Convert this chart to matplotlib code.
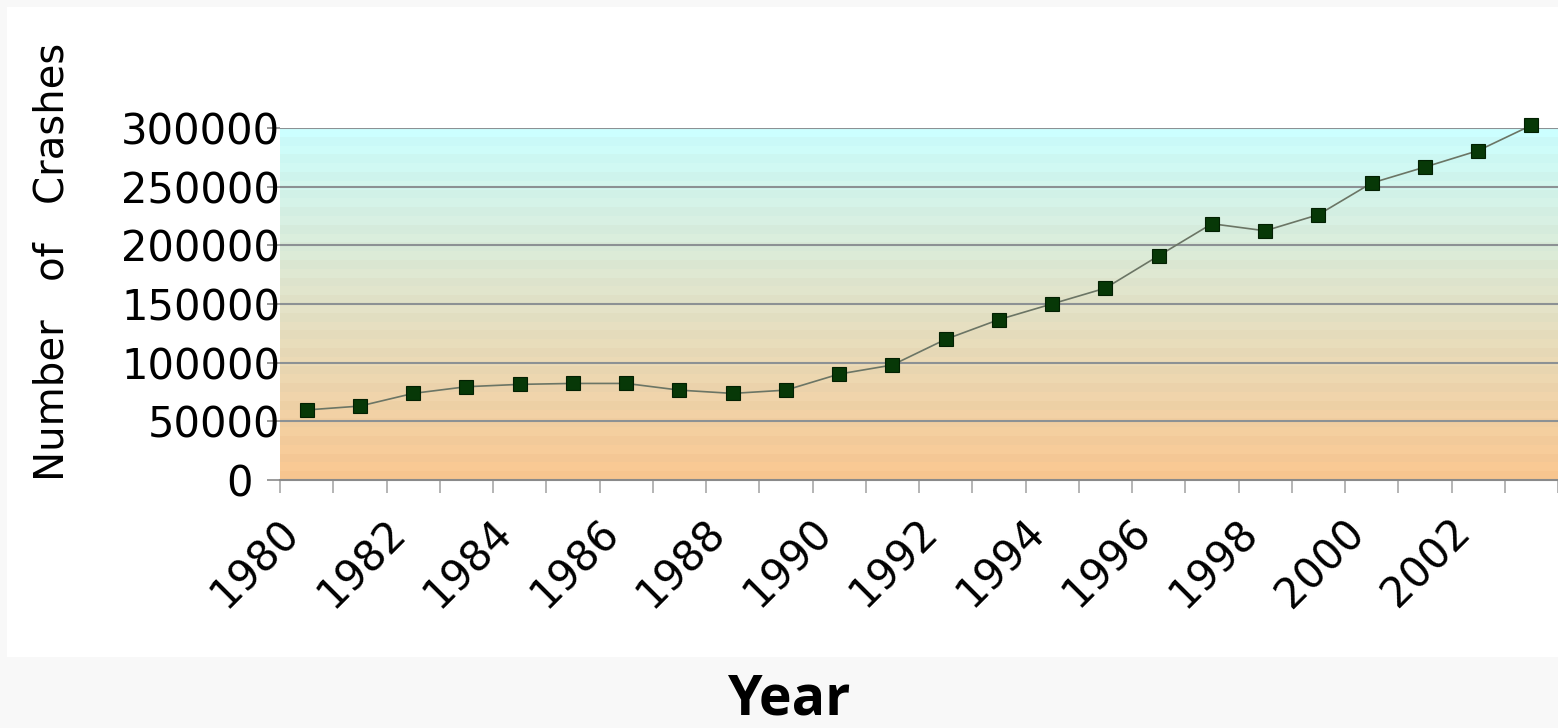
import matplotlib.pyplot as plt
import numpy as np
from matplotlib.colors import to_rgb
from matplotlib.patches import Rectangle
from matplotlib.transforms import ScaledTranslation

years = [str(y) for y in range(1980, 2004)]
crashes = [
    59700, 63000, 73800, 79500, 81500, 82300, 82300, 76600,
    73800, 76600, 90300, 98000, 119900, 136700, 150100, 163500,
    191100, 218400, 212400, 226100, 253100, 266700, 280700, 302300,
]
y_ticks = [0, 50000, 100000, 150000, 200000, 250000, 300000]


def _banded_gradient(top, bottom, n_bands=40):
    # stepped gradient with faint alternating stripes, like the old spreadsheet fill
    t = np.linspace(0, 1, n_bands)[:, None]
    cols = (1 - t) * np.array(to_rgb(top)) + t * np.array(to_rgb(bottom))
    shade = np.where(np.arange(n_bands) % 2 == 0, 1.0, 0.985)[:, None]
    return np.clip(cols * shade, 0, 1)[:, None, :]


def main():
    fig = plt.figure(figsize=(15.58, 7.28), dpi=100, facecolor="#f8f8f8")
    fig.patches.append(
        Rectangle((7 / 1558, 1 - 657 / 728), 1, (657 - 7) / 728,
                  transform=fig.transFigure, facecolor="white",
                  edgecolor="none", zorder=-10)
    )

    ax = fig.add_axes([280 / 1558, 1 - 480 / 728, 1278 / 1558, 352 / 728])
    ax.set_facecolor("none")

    x = np.arange(len(years))
    ax.set_xlim(-0.5, len(years) - 0.5)
    ax.set_ylim(0, 300000)

    # row 0 of the image is the top (cyan) band
    ax.imshow(_banded_gradient("#ccffff", "#fbc892"),
              extent=[-0.5, len(years) - 0.5, 0, 300000], origin="upper",
              aspect="auto", zorder=0, interpolation="nearest")

    for v in y_ticks[1:]:
        ax.axhline(v, color="#8c9194", lw=1.5, zorder=1)

    ax.plot(x, crashes, color="#6b7565", lw=1.2, zorder=2, clip_on=False)
    ax.plot(x, crashes, ls="none", marker="s", markersize=10.5,
            markerfacecolor="#073807", markeredgecolor="#022002",
            markeredgewidth=0.8, zorder=3, clip_on=False)

    for side in ("top", "right", "left"):
        ax.spines[side].set_visible(False)
    ax.spines["bottom"].set_color("#8a8a8a")
    ax.spines["bottom"].set_linewidth(1.5)

    ax.set_yticks(y_ticks)
    ax.set_yticklabels([str(v) for v in y_ticks])
    ax.tick_params(axis="y", length=9.5, width=1.2, color="#8a8a8a",
                   pad=-9.5, labelsize=30)
    # the zero label sits further left, clear of its tick
    zero_lbl = ax.get_yticklabels()[0]
    zero_lbl.set_transform(zero_lbl.get_transform()
                           + ScaledTranslation(-0.27, 0, fig.dpi_scale_trans))

    ax.set_xticks(x[::2])
    ax.set_xticklabels(years[::2], rotation=45, ha="right",
                       va="center", rotation_mode="anchor")
    ax.set_xticks(np.arange(len(years) + 1) - 0.5, minor=True)
    ax.tick_params(axis="x", which="major", length=0, pad=33, labelsize=30)
    ax.tick_params(axis="x", which="minor", length=9.5, width=1.2,
                   color="#a8a8a8")
    shift = ScaledTranslation(-0.14, 0, fig.dpi_scale_trans)
    for lbl in ax.get_xticklabels():
        lbl.set_transform(lbl.get_transform() + shift)

    fig.text(53 / 1558, 1 - 262 / 728, "Number   of   Crashes",
             rotation=90, ha="center", va="center", fontsize=29)
    fig.text(789 / 1558, 1 - 700 / 728, "Year", ha="center", va="center",
             fontsize=40, fontweight="bold", family=["Open Sans", "DejaVu Sans"])

    fig.savefig("out.png", dpi=100, facecolor=fig.get_facecolor())


if __name__ == "__main__":
    main()
